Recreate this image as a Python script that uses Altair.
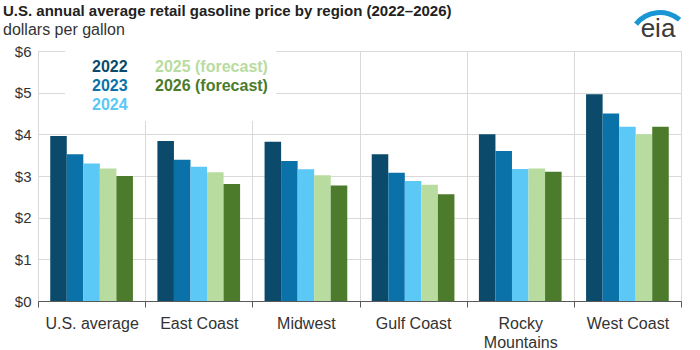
import altair as alt
import pandas as pd

regions = ["U.S. average", "East Coast", "Midwest", "Gulf Coast", "Rocky Mountains", "West Coast"]
years = ["2022", "2023", "2024", "2025 (forecast)", "2026 (forecast)"]
p2022 = [3.96, 3.84, 3.82, 3.52, 4.00, 4.96]
p2023 = [3.52, 3.39, 3.36, 3.08, 3.60, 4.50]
p2024 = [3.30, 3.22, 3.16, 2.88, 3.17, 4.18]
p2025 = [3.18, 3.09, 3.02, 2.79, 3.18, 4.00]
p2026 = [3.00, 2.81, 2.77, 2.56, 3.10, 4.18]
year_colors = ["#0b4a6b", "#0a72a8", "#5bc8f6", "#b8dca0", "#4b7b2b"]

series = [p2022, p2023, p2024, p2025, p2026]
rows = []
for y, vals in zip(years, series):
    for r, v in zip(regions, vals):
        rows.append({"region": r, "year": y, "price": v})
df = pd.DataFrame(rows)

FONT = "Liberation Sans"
TXT = "#333333"

bars = alt.Chart(df).mark_bar().encode(
    x=alt.X("region:N", sort=regions,
            scale=alt.Scale(paddingInner=0, paddingOuter=0),
            axis=alt.Axis(title=None, labelAngle=0, tickBand="extent", grid=True,
                          gridColor="#d9d9d9", domainColor="#595959", tickColor="#595959",
                          tickSize=6, labelFontSize=16, labelColor=TXT, labelPadding=8,
                          labelFont=FONT, labelLineHeight=19,
                          labelExpr="datum.label == 'Rocky Mountains' ? ['Rocky', 'Mountains'] : datum.label")),
    xOffset=alt.XOffset("year:N", sort=years, scale=alt.Scale(paddingOuter=0.74, paddingInner=0)),
    y=alt.Y("price:Q", scale=alt.Scale(domain=[0, 6]),
            axis=alt.Axis(title=None, values=[0, 1, 2, 3, 4, 5, 6], format="$.0f", domain=False,
                          ticks=False, gridColor="#d9d9d9", labelFontSize=15, labelColor=TXT,
                          labelPadding=7, labelFont=FONT)),
    color=alt.Color("year:N", scale=alt.Scale(domain=years, range=year_colors),
                    legend=alt.Legend(title=None, orient="none", legendX=27, legendY=0, columns=2,
                                      fillColor="white", padding=8, symbolSize=0, symbolOpacity=0,
                                      symbolStrokeWidth=0, labelOffset=3, labelFontSize=16,
                                      labelFontWeight="bold", labelFont=FONT, rowPadding=3,
                                      columnPadding=8, labelLimit=300,
                                      labelColor={"expr": "scale('color', datum.value)"})),
)

logo_df = pd.DataFrame({"t": ["eia"]})
logo_text = alt.Chart(logo_df).mark_text(font=FONT, fontSize=26, color="#3a3a3a", align="center",
                                         baseline="alphabetic").encode(
    x=alt.value(620), y=alt.value(-14), text="t:N")
logo_arc = alt.Chart(logo_df).mark_arc(radius=33, radius2=28, theta=5.38, theta2=6.98,
                                       color="#1a96d4").encode(
    x=alt.value(622), y=alt.value(-8))

chart = alt.layer(bars, logo_text, logo_arc).properties(
    width=643, height=250, autosize="none",
    padding={"left": 38, "top": 51, "right": 19, "bottom": 49},
    title=alt.Title("U.S. annual average retail gasoline price by region (2022\u20132026)",
                    subtitle="dollars per gallon", anchor="start", frame="group", dx=-35, dy=40,
                    offset=12, font=FONT, fontSize=15, fontWeight="bold", color="#222222",
                    subtitleFont=FONT, subtitleFontSize=16, subtitleColor=TXT, subtitlePadding=3),
).configure_view(stroke=None)

chart.save("out.html", embed_options={"renderer": "svg", "actions": False})
